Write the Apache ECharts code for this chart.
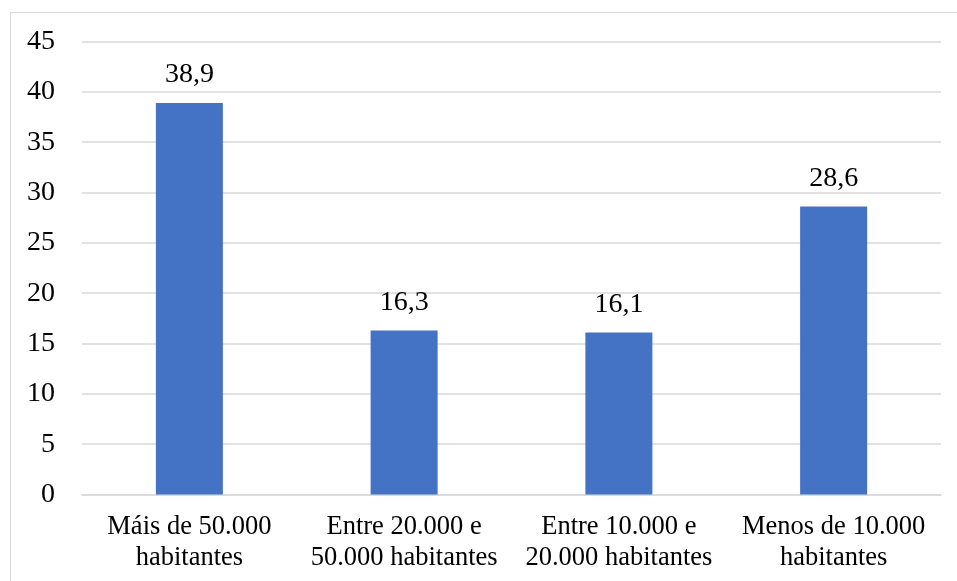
<!DOCTYPE html>
<html>
<head>
<meta charset="utf-8">
<script src="https://cdn.jsdelivr.net/npm/echarts@6/dist/echarts.min.js"></script>
<style>
    html, body { margin: 0; padding: 0; background: #fff; }
    #frame { position: absolute; left: 10px; top: 12px; width: 960px; height: 600px;
             border-top: 1px solid #d9d9d9; border-left: 1px solid #d9d9d9; }
    #chart { position: absolute; left: 0; top: 0; width: 957px; height: 581px; }
</style>
</head>
<body>
<div id="frame"></div>
<div id="chart"></div>
<script>
    var categories = ['Máis de 50.000\nhabitantes', 'Entre 20.000 e\n50.000 habitantes', 'Entre 10.000 e\n20.000 habitantes', 'Menos de 10.000\nhabitantes'];
    var values = [38.9, 16.3, 16.1, 28.6];
    var yTicks = [0, 5, 10, 15, 20, 25, 30, 35, 40, 45];

    var myChart = echarts.init(document.getElementById('chart'));
    var fontFam = '"Liberation Serif", "Times New Roman", serif';
    var option = {
        animation: false,
        grid: {left: 82, right: 16, top: 41.5, bottom: 86.5},
        xAxis: {
            type: 'category',
            data: categories,
            axisLine: {lineStyle: {color: '#d9d9d9', width: 1.5}},
            axisTick: {show: false},
            axisLabel: {
                color: '#000', fontFamily: fontFam, fontSize: 26.5,
                lineHeight: 31, margin: 17, interval: 0
            }
        },
        yAxis: {
            type: 'value',
            min: yTicks[0],
            max: yTicks[yTicks.length - 1],
            interval: 5,
            axisLine: {show: false},
            axisTick: {show: false},
            splitLine: {lineStyle: {color: '#d9d9d9', width: 1.5}},
            axisLabel: {color: '#000', fontFamily: fontFam, fontSize: 28, margin: 27}
        },
        series: [{
            type: 'bar',
            data: values,
            barWidth: 67,
            itemStyle: {color: '#4472c4'},
            label: {
                show: true, position: 'top', distance: 14,
                color: '#000', fontFamily: fontFam, fontSize: 28,
                formatter: function (p) { return String(p.value).replace('.', ','); }
            }
        }]
    };
    myChart.setOption(option);
</script>
</body>
</html>
